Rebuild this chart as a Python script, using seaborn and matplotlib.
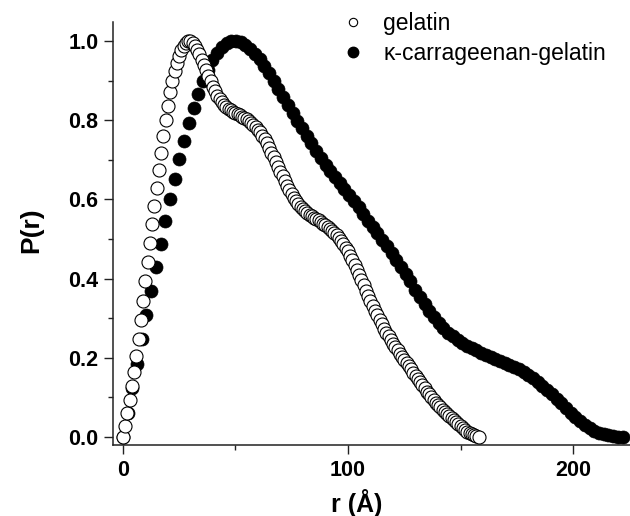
import numpy as np
import pandas as pd
import matplotlib
matplotlib.use("Agg")
import matplotlib.pyplot as plt
from matplotlib.lines import Line2D
from matplotlib.ticker import MultipleLocator, FormatStrFormatter
import seaborn as sns

# r grids (Angstrom), evenly spaced as in the P(r) output files
r_gelatin = np.arange(0, 159, 1.0)
r_kappa = np.linspace(0, 222, 107)

# P(r)
p_gelatin = [
    0.000, 0.028, 0.060, 0.093, 0.128, 0.165, 0.205, 0.248, 0.295, 0.344,
    0.394, 0.443, 0.491, 0.538, 0.584, 0.630, 0.675, 0.718, 0.760, 0.800,
    0.837, 0.870, 0.899, 0.924, 0.945, 0.962, 0.976, 0.987, 0.995, 0.999,
    0.999, 0.995, 0.988, 0.978, 0.966, 0.953, 0.940, 0.926, 0.912, 0.898,
    0.885, 0.873, 0.862, 0.853, 0.845, 0.839, 0.834, 0.829, 0.825, 0.821,
    0.818, 0.815, 0.812, 0.809, 0.806, 0.802, 0.798, 0.793, 0.788, 0.782,
    0.776, 0.769, 0.761, 0.752, 0.742, 0.730, 0.718, 0.706, 0.694, 0.682,
    0.670, 0.658, 0.646, 0.635, 0.624, 0.614, 0.604, 0.596, 0.588, 0.581,
    0.575, 0.570, 0.565, 0.561, 0.557, 0.553, 0.550, 0.547, 0.543, 0.539,
    0.535, 0.531, 0.526, 0.521, 0.515, 0.509, 0.502, 0.495, 0.487, 0.478,
    0.469, 0.458, 0.447, 0.435, 0.423, 0.410, 0.397, 0.384, 0.370, 0.357,
    0.344, 0.331, 0.319, 0.307, 0.296, 0.285, 0.274, 0.264, 0.254, 0.245,
    0.236, 0.227, 0.219, 0.211, 0.203, 0.195, 0.187, 0.179, 0.171, 0.163,
    0.155, 0.147, 0.139, 0.131, 0.123, 0.115, 0.108, 0.101, 0.094, 0.087,
    0.081, 0.075, 0.069, 0.063, 0.058, 0.052, 0.047, 0.042, 0.037, 0.032,
    0.027, 0.022, 0.018, 0.014, 0.010, 0.007, 0.004, 0.002, 0.000,
]

p_kappa = [
    0.000, 0.060, 0.125, 0.184, 0.247, 0.308, 0.369, 0.430, 0.487, 0.546,
    0.600, 0.652, 0.702, 0.748, 0.792, 0.832, 0.866, 0.900, 0.928, 0.952,
    0.970, 0.984, 0.994, 0.999, 1.000, 0.997, 0.990, 0.980, 0.968, 0.954,
    0.938, 0.920, 0.900, 0.879, 0.858, 0.838, 0.818, 0.799, 0.780, 0.761,
    0.742, 0.723, 0.705, 0.688, 0.672, 0.657, 0.642, 0.627, 0.612, 0.597,
    0.580, 0.563, 0.546, 0.530, 0.514, 0.498, 0.482, 0.465, 0.448, 0.430,
    0.412, 0.393, 0.372, 0.354, 0.336, 0.319, 0.303, 0.289, 0.276, 0.264,
    0.254, 0.245, 0.238, 0.231, 0.225, 0.219, 0.213, 0.207, 0.202, 0.197,
    0.192, 0.187, 0.182, 0.177, 0.171, 0.164, 0.157, 0.149, 0.140, 0.130,
    0.119, 0.108, 0.096, 0.085, 0.073, 0.061, 0.050, 0.040, 0.031, 0.023,
    0.016, 0.011, 0.007, 0.004, 0.002, 0.001, 0.000,
]

labels = ["gelatin", "\u03ba-carrageenan-gelatin"]

df_g = pd.DataFrame({"r": r_gelatin, "P": p_gelatin})
df_k = pd.DataFrame({"r": r_kappa, "P": p_kappa})

sns.set_style("ticks")
plt.rcParams["font.family"] = ["Liberation Sans", "DejaVu Sans"]
plt.rcParams["text.color"] = "black"
plt.rcParams["axes.labelcolor"] = "black"
plt.rcParams["xtick.color"] = "black"
plt.rcParams["ytick.color"] = "black"

fig = plt.figure(figsize=(6.3, 5.16), dpi=100)
ax = fig.add_axes([0.1794, 0.1376, 0.8206, 0.8198])

# filled first, open circles (white fill) drawn on top
sns.scatterplot(data=df_k, x="r", y="P", ax=ax, marker="o", s=88,
                color="black", edgecolor="black", linewidth=0.5, zorder=2)
sns.scatterplot(data=df_g, x="r", y="P", ax=ax, marker="o", s=88,
                facecolor="white", edgecolor="black", linewidth=0.8, zorder=3)

ax.set_xlim(-4.4, 225.3)
ax.set_ylim(-0.02, 1.048)

ax.xaxis.set_major_locator(MultipleLocator(100))
ax.xaxis.set_minor_locator(MultipleLocator(50))
ax.yaxis.set_major_locator(MultipleLocator(0.2))
ax.yaxis.set_minor_locator(MultipleLocator(0.1))
ax.yaxis.set_major_formatter(FormatStrFormatter("%.1f"))

sns.despine(ax=ax)
for side in ["left", "bottom"]:
    ax.spines[side].set_linewidth(1.1)
    ax.spines[side].set_color("#222222")

ax.tick_params(which="major", direction="out", length=6.5, width=1.0,
               labelsize=15.5, pad=4, color="#222222", labelcolor="black")
ax.tick_params(which="minor", direction="out", length=3.5, width=1.0,
               color="#222222")
for lab in ax.get_xticklabels() + ax.get_yticklabels():
    lab.set_fontweight("bold")

ax.set_xlabel("r (\u00c5)", fontsize=18, fontweight="bold", color="black")
ax.set_ylabel("P(r)", fontsize=19, fontweight="bold", color="black")
ax.xaxis.set_label_coords(0.472, -0.105)
ax.yaxis.set_label_coords(-0.134, 0.508)

handles = [
    Line2D([], [], linestyle="none", marker="o", markersize=6,
           markerfacecolor="white", markeredgecolor="black", markeredgewidth=0.8),
    Line2D([], [], linestyle="none", marker="o", markersize=7.5,
           markerfacecolor="black", markeredgecolor="black"),
]
fig.legend(handles, labels, loc="upper left", bbox_to_anchor=(342 / 630, 0.977),
           frameon=False, fontsize=16.5, handlelength=1.0, handletextpad=0.8,
           labelspacing=0.3, borderpad=0, borderaxespad=0, labelcolor="black")

fig.savefig("out.png", dpi=100)
